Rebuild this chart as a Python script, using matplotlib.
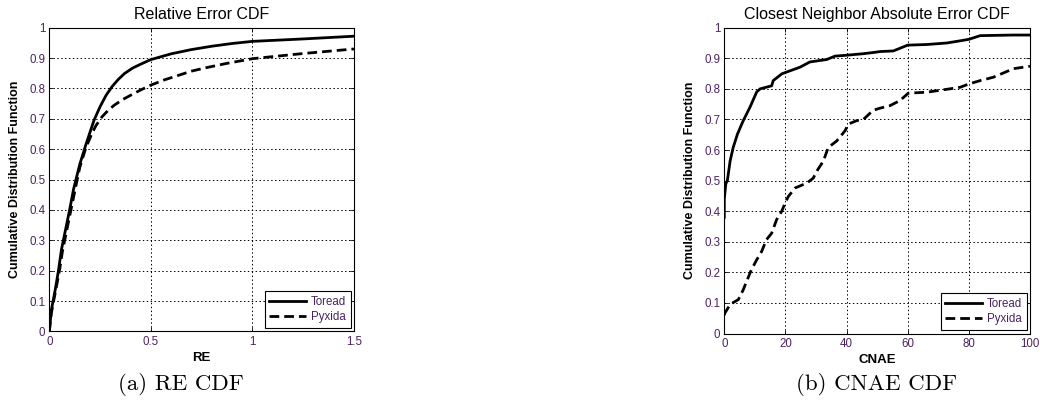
import matplotlib
matplotlib.use("Agg")
import matplotlib.pyplot as plt

# --- Relative error CDF -------------------------------------------------
re_toread_x = [0, 0.01, 0.03, 0.045, 0.06, 0.08, 0.1, 0.12, 0.15, 0.18, 0.22,
               0.25, 0.28, 0.31, 0.34, 0.37, 0.41, 0.45, 0.5, 0.6, 0.7, 0.8,
               0.9, 1.0, 1.25, 1.5]
re_toread_y = [0, 0.07, 0.14, 0.2, 0.27, 0.335, 0.4, 0.47, 0.55, 0.615, 0.695,
               0.74, 0.778, 0.807, 0.83, 0.849, 0.867, 0.88, 0.895, 0.914,
               0.928, 0.939, 0.948, 0.955, 0.963, 0.972]
re_pyxida_x = [0, 0.01, 0.03, 0.05, 0.065, 0.085, 0.105, 0.125, 0.15, 0.18,
               0.21, 0.23, 0.26, 0.29, 0.32, 0.36, 0.41, 0.45, 0.5, 0.57,
               0.64, 0.7, 0.77, 0.87, 1.0, 1.25, 1.5]
re_pyxida_y = [0, 0.06, 0.13, 0.2, 0.265, 0.33, 0.395, 0.46, 0.54, 0.605,
               0.652, 0.678, 0.707, 0.728, 0.745, 0.763, 0.781, 0.795, 0.811,
               0.829, 0.844, 0.857, 0.868, 0.882, 0.898, 0.915, 0.93]

# --- Closest neighbor absolute error CDF ---------------------------------
cn_toread_x = [0, 0, 0.2, 0.5, 1.0, 1.9, 2.9, 4.3, 6.2, 8.4, 10.6, 11.7, 15.5,
               16, 18.8, 20.4, 24.8, 28, 33.5, 36.2, 40, 45.5, 48.8, 51, 55.3,
               60, 66.2, 72.8, 77.1, 80, 83.7, 94.6, 100]
cn_toread_y = [0.38, 0.44, 0.46, 0.49, 0.50, 0.564, 0.608, 0.652, 0.696, 0.74,
               0.79, 0.80, 0.81, 0.827, 0.849, 0.855, 0.871, 0.888, 0.896,
               0.907, 0.91, 0.915, 0.919, 0.922, 0.924, 0.943, 0.945, 0.95,
               0.957, 0.962, 0.974, 0.976, 0.976]
cn_pyxida_x = [0, 0.2, 1.9, 4.6, 6.2, 7.3, 8.9, 10.6, 12.2, 13.8, 15.5, 17.1,
               18.8, 19.9, 21, 23.2, 27, 29.1, 30.2, 32.4, 34, 36.8, 39.5,
               40.6, 43.3, 45.5, 48.7, 51, 54.2, 57.5, 60.2, 66.2, 71.7, 77.1,
               80, 83.7, 88, 91.3, 94.6, 100]
cn_pyxida_y = [0.06, 0.067, 0.095, 0.111, 0.143, 0.171, 0.209, 0.241, 0.268,
               0.307, 0.328, 0.372, 0.4, 0.427, 0.449, 0.476, 0.492, 0.508,
               0.53, 0.564, 0.608, 0.63, 0.663, 0.685, 0.696, 0.70, 0.73,
               0.737, 0.745, 0.762, 0.786, 0.789, 0.797, 0.805, 0.816, 0.827,
               0.838, 0.852, 0.866, 0.874]

y_ticks = [0, 0.1, 0.2, 0.3, 0.4, 0.5, 0.6, 0.7, 0.8, 0.9, 1]
y_tick_labels = ["0", "0.1", "0.2", "0.3", "0.4", "0.5", "0.6", "0.7", "0.8", "0.9", "1"]
re_ticks = [0, 0.5, 1, 1.5]
re_tick_labels = ["0", "0.5", "1", "1.5"]
cn_ticks = [0, 20, 40, 60, 80, 100]
cn_tick_labels = ["0", "20", "40", "60", "80", "100"]

series_names = ["Toread", "Pyxida"]

plt.rcParams["font.family"] = ["Liberation Sans", "DejaVu Sans"]
label_color = "#4a2262"
dash = (0, (3.5, 1.8))

fig = plt.figure(figsize=(10.4, 4.07), dpi=100)
W, H = 1040, 407


def ax_rect(x0, x1, y0, y1):
    return [x0 / W, 1 - y1 / H, (x1 - x0) / W, (y1 - y0) / H]


def style_axes(ax, xlim, xticks, xlabels, title, xlabel, caption, cap_x):
    ax.set_xlim(*xlim)
    ax.set_ylim(0, 1)
    ax.set_xticks(xticks)
    ax.set_xticklabels(xlabels)
    ax.set_yticks(y_ticks)
    ax.set_yticklabels(y_tick_labels)
    ax.tick_params(direction="in", length=3, width=0.6, labelsize=8.3,
                   labelcolor=label_color, top=True, right=True, pad=3)
    ax.grid(True, color="black", linestyle=(0, (1.5, 2.5)), linewidth=0.7)
    for s in ax.spines.values():
        s.set_linewidth(0.8)
        s.set_color("black")
    ax.set_title(title, fontsize=11.5, pad=6)
    ax.set_xlabel(xlabel, fontsize=9.5, fontweight="bold", labelpad=3)
    ax.set_ylabel("Cumulative Distribution Function", fontsize=9,
                  fontweight="bold", labelpad=6)
    leg = ax.legend(series_names, loc="lower right", fontsize=8.3,
                    fancybox=False, framealpha=1, edgecolor="black",
                    handlelength=3.2, borderpad=0.4, labelspacing=0.3,
                    handletextpad=0.4, borderaxespad=0.3)
    leg.get_frame().set_linewidth(0.8)
    for t in leg.get_texts():
        t.set_color(label_color)
    # sub-figure caption, placed in figure pixel coordinates
    fig.text(cap_x / W, 1 - 373 / H, caption, ha="center", va="top",
             fontsize=16.5, family="cmr10")


ax1 = fig.add_axes(ax_rect(49.3, 354, 27.7, 331.4))
ax1.plot(re_toread_x, re_toread_y, color="black", linewidth=2.0)
ax1.plot(re_pyxida_x, re_pyxida_y, color="black", linewidth=2.0,
         linestyle=dash)
style_axes(ax1, (0, 1.5), re_ticks, re_tick_labels, "Relative Error CDF",
           "RE", "(a) RE CDF", 181)

ax2 = fig.add_axes(ax_rect(724.3, 1030, 27.7, 333.5))
ax2.plot(cn_toread_x, cn_toread_y, color="black", linewidth=2.0)
ax2.plot(cn_pyxida_x, cn_pyxida_y, color="black", linewidth=2.0,
         linestyle=dash)
style_axes(ax2, (0, 100), cn_ticks, cn_tick_labels,
           "Closest Neighbor Absolute Error CDF", "CNAE", "(b) CNAE CDF", 877)

fig.savefig("out.png", dpi=100)
